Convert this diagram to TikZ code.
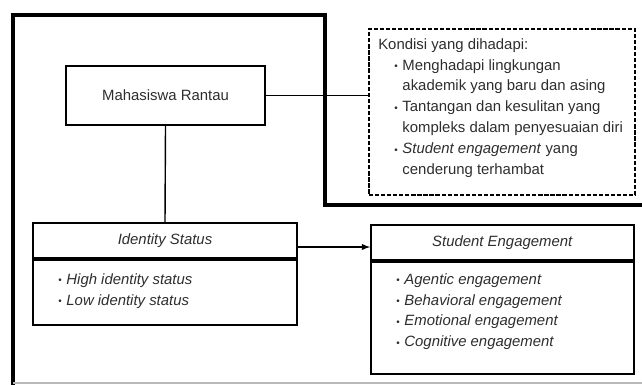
\documentclass[tikz,border=0pt]{standalone}
\usepackage{fontspec}
\setmainfont{Liberation Sans}
\usepackage{tikz}
\definecolor{txt}{RGB}{45,45,45}
\newcommand{\bul}{\makebox[5.8pt][l]{\raisebox{0.1ex}{\scriptsize\textbullet}}}

\begin{document}
\begin{tikzpicture}[x=0.025cm,y=-0.025cm,
    font=\fontsize{10.6}{14.9}\selectfont,text=txt,
    box/.style={draw,line width=1.2pt,inner sep=0pt},
    liste/.style={anchor=north west,align=left,inner sep=0pt}]
                    \useasboundingbox (0,0) rectangle (642,384);
                    % frame
                    \draw[line width=3pt] (642,205) -- (325,205) -- (325,15) -- (13,15) -- (13,392);
                    \draw[gray!55,line width=1.5pt] (13,383) -- (642,383);

                    \node[box,minimum width=4.975cm,minimum height=1.475cm] (mhs) at (165.5,95.5) {Mahasiswa Rantau};
                    \node[draw,line width=1pt,dash pattern=on 3pt off 1.3pt,minimum width=6.65cm,minimum height=4.15cm] (kondisi) at (502,112) {};
                    \node[liste] (kondtxt) at (378,38) {Kondisi yang dihadapi:\\
                        \hspace*{11.4pt}\bul Menghadapi lingkungan\\
                        \hspace*{17.2pt}akademik yang baru dan asing\\
                        \hspace*{11.4pt}\bul Tantangan dan kesulitan yang\\
                        \hspace*{17.2pt}kompleks dalam penyesuaian diri\\
                        \hspace*{11.4pt}\bul \textit{Student engagement} yang\\
                        \hspace*{17.2pt}cenderung terhambat};

                    \node[box,minimum width=6.6cm,minimum height=0.875cm] (idhead) at (165,240.5) {\textit{Identity Status}};
                    \node[box,minimum width=6.6cm,minimum height=1.625cm,anchor=north] (idbody) at (idhead.south) {};
                    \node[liste] (idlist) at (58,273) {\bul\textit{High identity status}\\ \bul\textit{Low identity status}};

                    \node[box,minimum width=6.575cm,minimum height=0.875cm] (sehead) at (502.5,242.5) {\textit{Student Engagement}};
                    \node[box,minimum width=6.575cm,minimum height=2.8cm,anchor=north] (sebody) at (sehead.south) {};
                    \node[liste] (selist) at (396,273) {\bul\textit{Agentic engagement}\\ \bul\textit{Behavioral engagement}\\
                        \bul\textit{Emotional engagement}\\ \bul\textit{Cognitive engagement}};

                    \draw[line width=1pt] (mhs.east) -- (mhs.east -| kondisi.west);
                    \draw[line width=1pt] (mhs.south) -- (idhead.north);
                    \draw[line width=1pt,-latex] (idhead.east |- 0,247) -- (sehead.west |- 0,247);
                \end{tikzpicture}
\end{document}
